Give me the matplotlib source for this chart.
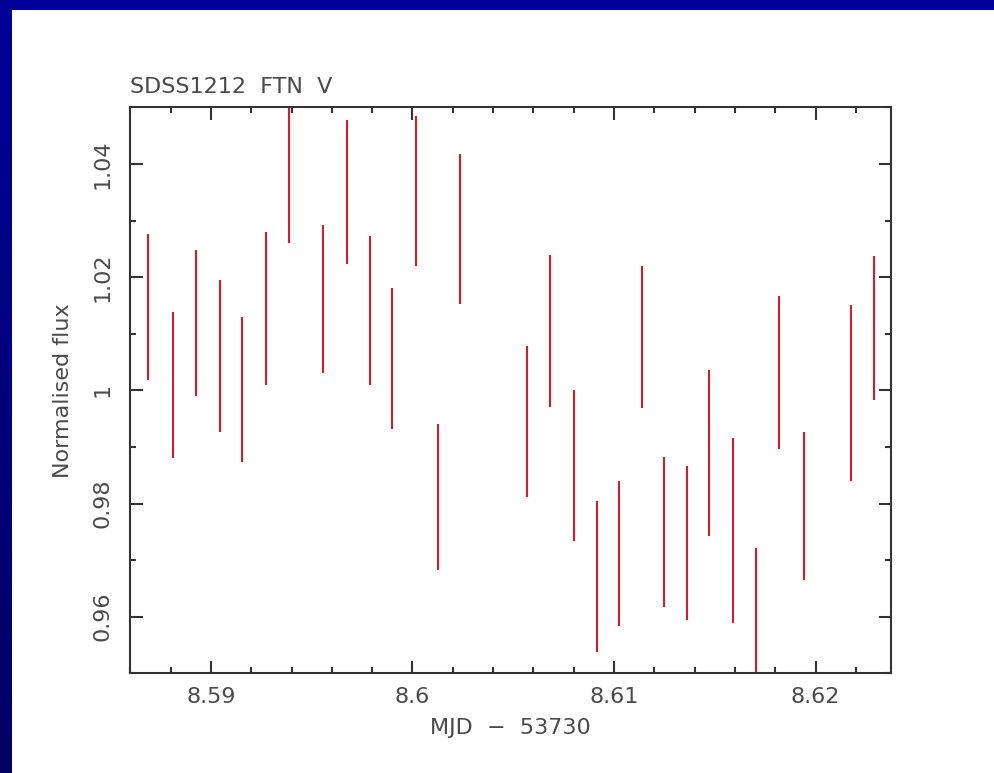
import numpy as np
import matplotlib
matplotlib.use("Agg")
import matplotlib.pyplot as plt
from matplotlib.ticker import MultipleLocator, FixedLocator

plt.rcParams['font.family'] = ['DejaVu Sans']

# light curve: time (MJD - 53730) and the lower / upper end of each error bar
mjd = [8.58686, 8.58812, 8.58924, 8.59043, 8.59154, 8.59274, 8.59387, 8.59557,
       8.59674, 8.59787, 8.59899, 8.60018, 8.60126, 8.60236, 8.60570, 8.60683,
       8.60800, 8.60914, 8.61026, 8.61137, 8.61250, 8.61362, 8.61471, 8.61590,
       8.61704, 8.61818, 8.61942, 8.62175, 8.62290]
flux_lo = [1.0019, 0.9881, 0.9990, 0.9927, 0.9874, 1.0010, 1.0260, 1.0031,
           1.0224, 1.0010, 0.9932, 1.0220, 0.9683, 1.0153, 0.9811, 0.9970,
           0.9733, 0.9537, 0.9584, 0.9968, 0.9618, 0.9595, 0.9742, 0.9589,
           0.9460, 0.9897, 0.9664, 0.9839, 0.9982]
flux_hi = [1.0276, 1.0138, 1.0247, 1.0195, 1.0130, 1.0280, 1.0530, 1.0292,
           1.0478, 1.0273, 1.0181, 1.0485, 0.9941, 1.0418, 1.0078, 1.0239,
           1.0000, 0.9804, 0.9840, 1.0220, 0.9882, 0.9866, 1.0035, 0.9915,
           0.9722, 1.0166, 0.9927, 1.0150, 1.0237]

W, H = 994, 773
fig = plt.figure(figsize=(W / 100, H / 100), dpi=100)
fig.patch.set_facecolor('white')

# blue slide frame at top and left
bar = fig.add_axes([0, 0, 12 / W, 1])
grad = np.linspace(0, 1, 256)
cols = np.zeros((256, 1, 3))
cols[:, 0, 2] = (0x99 - (0x99 - 0x60) * grad) / 255
bar.imshow(cols, aspect='auto', extent=[0, 1, 0, 1])
bar.axis('off')
top = fig.add_axes([0, 1 - 9.5 / H, 1, 9.5 / H])
top.set_facecolor('#000099')
top.set_xticks([])
top.set_yticks([])
for s in top.spines.values():
    s.set_visible(False)

ink = '#333333'
txt = '#4a4a4a'
ax = fig.add_axes([129.5 / W, 1 - 673.3 / H, (891 - 129.5) / W, (673.3 - 107.3) / H])
ax.vlines(mjd, flux_lo, flux_hi, colors='#cc1f2a', linewidth=1.5)

ax.set_xlim(8.58596, 8.62374)
ax.set_ylim(0.95, 1.05)

ax.xaxis.set_major_locator(FixedLocator([8.59, 8.60, 8.61, 8.62]))
ax.xaxis.set_minor_locator(MultipleLocator(0.002))
ax.yaxis.set_major_locator(FixedLocator([0.96, 0.98, 1.00, 1.02, 1.04]))
ax.yaxis.set_minor_locator(MultipleLocator(0.01))
ax.set_xticklabels(['8.59', '8.6', '8.61', '8.62'])
ax.set_yticklabels(['0.96', '0.98', '1', '1.02', '1.04'], rotation=90, va='center')

ax.tick_params(which='both', direction='in', top=True, right=True, colors=ink,
               width=1.5, labelcolor=txt, labelsize=16)
ax.tick_params(which='major', length=9)
ax.tick_params(which='minor', length=4.5)
ax.tick_params(axis='x', pad=10)
ax.tick_params(axis='y', pad=12)
for s in ax.spines.values():
    s.set_color(ink)
    s.set_linewidth(1.5)

ax.set_xlabel('MJD  \u2212  53730', fontsize=16, color=txt, labelpad=8)
ax.set_ylabel('Normalised flux', fontsize=16, color=txt, labelpad=14)
ax.set_title('SDSS1212  FTN  V', loc='left', fontsize=16, color=txt, pad=10)

fig.savefig('out.png', dpi=100)
